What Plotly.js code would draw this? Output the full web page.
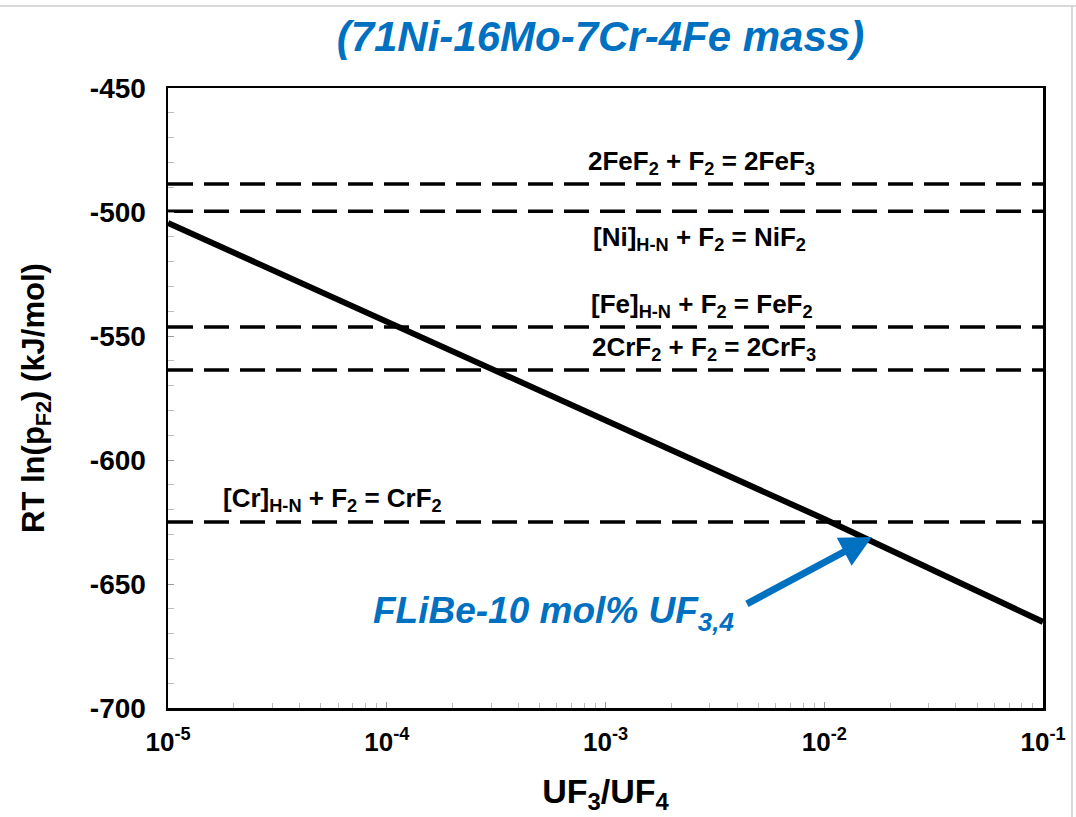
<!DOCTYPE html>
<html>
<head>
<meta charset="utf-8">
<script src="https://cdn.plot.ly/plotly-3.0.1.min.js"></script>
<style>
html, body { margin: 0; padding: 0; background: #fff; }
#chart { width: 1076px; height: 817px; }
</style>
</head>
<body>
<div id="chart"></div>
<script>
// ---- data ----
const titleText = "(71Ni-16Mo-7Cr-4Fe mass)";
const uRatio = [1e-5, 1e-4, 1e-3, 1e-2, 1e-1];
const rtLnPF2 = [-504.4, -544.2, -583.8, -623.8, -665.3];
const reactionLabels = [
  "2FeF<sub>2</sub> + F<sub>2</sub> = 2FeF<sub>3</sub>",
  "[Ni]<sub>H-N</sub> + F<sub>2</sub> = NiF<sub>2</sub>",
  "[Fe]<sub>H-N</sub> + F<sub>2</sub> = FeF<sub>2</sub>",
  "2CrF<sub>2</sub> + F<sub>2</sub> = 2CrF<sub>3</sub>",
  "[Cr]<sub>H-N</sub> + F<sub>2</sub> = CrF<sub>2</sub>"
];
const reactionLevels = [-488.7, -499.7, -546.4, -563.7, -625.0];
const xExtent = [1e-5, 1e-1];
const xTickVals = [1e-5, 1e-4, 1e-3, 1e-2, 1e-1];
const xTickText = ["10<sup>-5</sup>", "10<sup>-4</sup>", "10<sup>-3</sup>", "10<sup>-2</sup>", "10<sup>-1</sup>"];
const yTickVals = [-700, -650, -600, -550, -500, -450];
const yTickText = ["-700", "-650", "-600", "-550", "-500", "-450"];
const saltLabel = "FLiBe-10 mol% UF<sub>3,4</sub>";

// ---- layout helpers (positions, not data) ----
const labelPos = [
  {x: -2.56, y: -480.2},
  {x: -2.57, y: -510.5},
  {x: -2.56, y: -537.5},
  {x: -2.55, y: -555.2},
  {x: -4.25, y: -616.1}
];
const FONT = "Arial, 'Liberation Sans', sans-serif";
const BLUE = "#0070C0";

const traces = [];
reactionLevels.forEach((lv) => {
  traces.push({
    x: xExtent, y: [lv, lv], mode: "lines", type: "scatter",
    line: {color: "#000", width: 3.5, dash: "25px,11px"},
    hoverinfo: "skip", showlegend: false
  });
});
traces.push({
  x: uRatio, y: rtLnPF2, mode: "lines", type: "scatter",
  line: {color: "#000", width: 6}, showlegend: false
});

const minorX = [];
for (let d = -5; d < -1; d++) for (let k = 2; k <= 9; k++) minorX.push(k * Math.pow(10, d));

const annotations = reactionLabels.map((t, i) => ({
  text: t, x: labelPos[i].x, y: labelPos[i].y, xref: "x", yref: "y",
  showarrow: false, xanchor: "center", yanchor: "middle",
  font: {family: FONT, size: 26, color: "#000", weight: "bold"}
}));
annotations.push({
  text: saltLabel, x: -3.24, y: -661.5, xref: "x", yref: "y",
  showarrow: false, xanchor: "center", yanchor: "middle",
  font: {family: FONT, size: 37, color: BLUE, weight: "bold", style: "italic"}
});
annotations.push({
  text: " ", x: -1.782, y: -631.0, xref: "x", yref: "y",
  showarrow: true, ax: -127, ay: 68, axref: "pixel", ayref: "pixel",
  arrowcolor: BLUE, arrowwidth: 7, arrowhead: 2, arrowsize: 0.9, standoff: 0,
  font: {size: 2}
});

const layout = {
  width: 1076, height: 817,
  margin: {l: 168, r: 33, t: 88, b: 109},
  paper_bgcolor: "#fff", plot_bgcolor: "#fff",
  font: {family: FONT, color: "#000"},
  title: {
    text: titleText, x: 0.558, xanchor: "center", y: 0.955, yanchor: "middle",
    font: {family: FONT, size: 42, color: BLUE, weight: "bold", style: "italic"}
  },
  xaxis: {
    type: "log", range: [-5, -1], tickmode: "array", tickvals: xTickVals, ticktext: xTickText,
    ticks: "inside", ticklen: 6, tickcolor: "#999", tickwidth: 1,
    minor: {tickmode: "array", tickvals: minorX, ticks: "inside", ticklen: 5, tickcolor: "#bbb", showgrid: false},
    showgrid: false, zeroline: false,
    showline: true, linecolor: "#000", linewidth: 2.5, mirror: true,
    ticklabelstandoff: 9,
    tickfont: {family: FONT, size: 26, weight: "bold"},
    title: {text: "UF<sub>3</sub>/UF<sub>4</sub>", font: {family: FONT, size: 34, weight: "bold"}, standoff: 24}
  },
  yaxis: {
    range: [-700, -450], tickmode: "array", tickvals: yTickVals, ticktext: yTickText,
    ticks: "inside", ticklen: 6, tickcolor: "#999", tickwidth: 1,
    minor: {dtick: 10, ticks: "inside", ticklen: 6, tickcolor: "#bbb", showgrid: false},
    showgrid: false, zeroline: false,
    showline: true, linecolor: "#000", linewidth: 2.5, mirror: true,
    ticklabelstandoff: 14,
    tickfont: {family: FONT, size: 28, weight: "bold"},
    title: {text: "RT ln(p<sub>F2</sub>) (kJ/mol)", font: {family: FONT, size: 31, weight: "bold"}, standoff: 36}
  },
  annotations: annotations,
  shapes: [
    {type: "line", xref: "paper", yref: "paper", x0: -0.2, x1: 1.04, y0: 1.1323, y1: 1.1323,
     line: {color: "#d9d9d9", width: 2}},
    {type: "line", xref: "paper", yref: "paper", x0: 1.0331, x1: 1.0331, y0: -0.18, y1: 1.1323,
     line: {color: "#d9d9d9", width: 2}}
  ],
  showlegend: false
};

Plotly.newPlot("chart", traces, layout, {displayModeBar: false, staticPlot: true});
</script>
</body>
</html>
